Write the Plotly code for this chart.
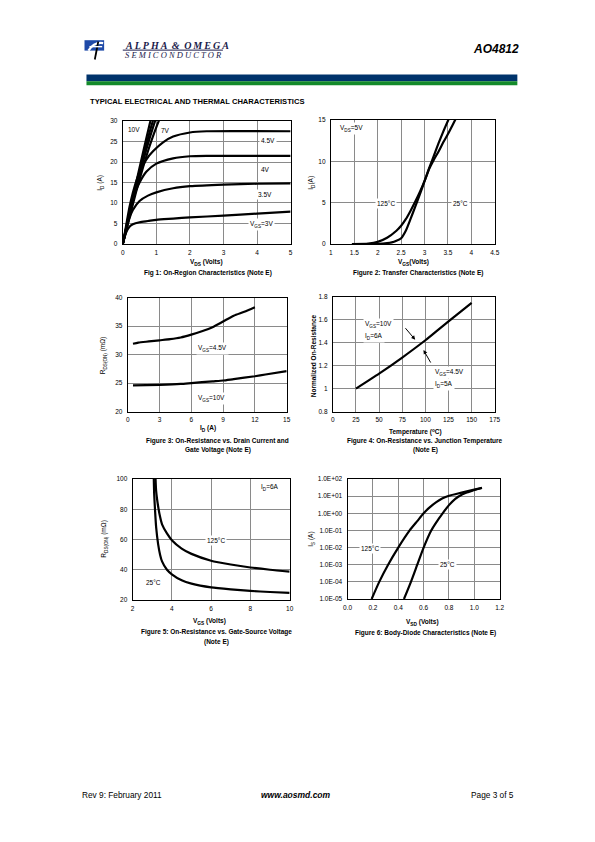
import plotly.graph_objects as go

W, H = 595, 842

# ---------------- data ----------------
# Fig 1: On-region characteristics, VDS (V) vs ID (A)
f1_vds_10v = [0, 0.2, 0.4, 0.6, 0.8, 0.88]
f1_id_10v = [0, 7.6, 15.0, 22.2, 29.2, 31.8]
f1_vds_7v = [0, 0.2, 0.4, 0.6, 0.8, 0.95]
f1_id_7v = [0, 7.2, 14.3, 21.0, 27.3, 31.5]
f1_vds_6v = [0, 0.2, 0.4, 0.6, 0.8, 1.0]
f1_id_6v = [0, 6.9, 13.6, 20.0, 25.8, 31.0]
f1_vds_5v = [0, 0.2, 0.4, 0.6, 0.8, 1.0, 1.1]
f1_id_5v = [0, 6.5, 12.8, 18.6, 23.9, 28.5, 30.6]
f1_vds_45v = [0, 0.1, 0.2, 0.3, 0.4, 0.5, 0.7, 0.9, 1.2, 1.5, 2.0, 2.5, 5.0]
f1_id_45v = [0, 4.5, 9.0, 12.5, 15.3, 17.5, 20.6, 22.6, 24.8, 26.2, 27.2, 27.5, 27.5]
f1_vds_4v = [0, 0.1, 0.2, 0.3, 0.4, 0.5, 0.7, 1.0, 1.5, 2.0, 2.5, 5.0]
f1_id_4v = [0, 4.0, 7.8, 10.8, 13.2, 15.0, 17.6, 19.6, 20.9, 21.4, 21.5, 21.5]
f1_vds_35v = [0, 0.1, 0.2, 0.3, 0.5, 0.75, 1.0, 1.5, 2.0, 3.0, 4.0, 5.0]
f1_id_35v = [0, 3.4, 6.3, 8.3, 10.5, 11.8, 12.6, 13.6, 14.1, 14.5, 14.7, 14.8]
f1_vds_3v = [0, 0.05, 0.1, 0.2, 0.3, 0.5, 0.75, 1.0, 1.5, 2.0, 3.0, 4.0, 5.0]
f1_id_3v = [0, 1.5, 2.8, 4.2, 4.8, 5.3, 5.6, 5.9, 6.2, 6.5, 6.9, 7.4, 7.9]

# Fig 2: Transfer characteristics, VGS (V) vs ID (A)
f2_vgs_125 = [1.45, 1.8, 2.0, 2.2, 2.4, 2.5, 2.6, 2.7, 2.8, 2.9, 3.0, 3.1, 3.2, 3.3, 3.4, 3.5, 3.6, 3.68]
f2_id_125 = [0, 0.05, 0.25, 0.75, 1.6, 2.2, 3.0, 4.0, 5.1, 6.3, 7.6, 9.1, 10.2, 11.2, 12.3, 13.3, 14.4, 15.3]
f2_vgs_25 = [1.45, 2.0, 2.2, 2.3, 2.4, 2.5, 2.6, 2.7, 2.8, 2.9, 3.0, 3.1, 3.2, 3.3, 3.4, 3.53]
f2_id_25 = [0, 0.02, 0.1, 0.2, 0.4, 0.7, 1.6, 3.0, 4.5, 6.0, 7.6, 9.2, 10.7, 12.2, 13.6, 15.3]

# Fig 3: RDS(ON) (mOhm) vs ID (A)
f3_id_45v = [0.5, 1, 2, 3, 4, 5, 6, 7, 8, 9, 10, 11, 12]
f3_r_45v = [31.9, 32.1, 32.3, 32.5, 32.7, 33.0, 33.5, 34.1, 34.8, 35.8, 36.8, 37.5, 38.3]
f3_id_10v = [0.5, 3, 5, 6, 8, 9, 10, 12, 13, 15]
f3_r_10v = [24.6, 24.7, 24.85, 25.0, 25.3, 25.45, 25.7, 26.2, 26.5, 27.1]

# Fig 4: Normalized on-resistance vs temperature
f4_temp = [25, 50, 75, 100, 125, 150]
f4_norm = [1.0, 1.13, 1.27, 1.42, 1.585, 1.745]

# Fig 5: RDS(ON) vs VGS
f5_vgs_125 = [3.17, 3.2, 3.3, 3.4, 3.5, 3.75, 4.0, 4.5, 5.0, 6.0, 7.0, 8.0, 9.0, 10.0]
f5_r_125 = [100, 92, 82, 75, 70, 64, 59.5, 54, 50.5, 46, 43.5, 41.5, 40, 38.8]
f5_vgs_25 = [3.08, 3.1, 3.15, 3.2, 3.3, 3.4, 3.5, 3.75, 4.0, 4.5, 5.0, 6.0, 7.0, 8.0, 9.0, 10.0]
f5_r_25 = [100, 90, 78, 68, 57, 50, 45.5, 40, 37, 33, 30.8, 28.3, 27, 26, 25.3, 24.7]

# Fig 6: Body-diode characteristics, VSD (V) vs IS (A)
f6_vsd_125 = [0.19, 0.25, 0.32, 0.40, 0.49, 0.55, 0.60, 0.65, 0.70, 0.75, 0.80, 0.90, 1.00, 1.06]
f6_is_125 = [1e-5, 1e-4, 1e-3, 1e-2, 1e-1, 0.35, 1, 2.3, 4.5, 7.5, 10.5, 16, 24, 31]
f6_vsd_25 = [0.445, 0.50, 0.55, 0.60, 0.66, 0.70, 0.75, 0.80, 0.85, 0.90, 0.95, 1.00, 1.06]
f6_is_25 = [1e-5, 1e-4, 1e-3, 1e-2, 1e-1, 0.3, 1, 3, 7, 12, 17, 23, 30]

f6_tickvals = [1e-5, 1e-4, 1e-3, 1e-2, 1e-1, 1e0, 1e1, 1e2]
f6_ticktext = ["1.0E-05", "1.0E-04", "1.0E-03", "1.0E-02", "1.0E-01", "1.0E+00", "1.0E+01", "1.0E+02"]

# ---------------- helpers ----------------
FONT = "Liberation Sans, Arial, sans-serif"
SERIF = "Liberation Serif, Times New Roman, serif"


def px(x):
    return x / W


def py(y):
    return 1 - y / H


def sub(s, size=4.6):
    return f"<span style='font-size:{size}px;baseline-shift:-1.6px'>{s}</span>"


def sup(s, size=4.6):
    return f"<span style='font-size:{size}px;baseline-shift:2.5px'>{s}</span>"


fig = go.Figure()

annotations = []
shapes = []


def txt(x, y, text, size=6.5, bold=False, italic=False, xanchor="center", angle=0,
        bg=None, color="black", family=FONT):
    t = text
    if bold:
        t = "<b>" + t + "</b>"
    if italic:
        t = "<i>" + t + "</i>"
    a = dict(x=px(x), y=py(y), xref="paper", yref="paper", text=t, showarrow=False,
             xanchor=xanchor, yanchor="middle", textangle=angle,
             font=dict(size=size, color=color, family=family))
    if bg:
        a["bgcolor"] = bg
        a["borderpad"] = 1
    annotations.append(a)


def line(xr, yr, name, x, y):
    fig.add_trace(go.Scatter(x=x, y=y, mode="lines", xaxis=xr, yaxis=yr,
                             line=dict(color="black", width=2.2, shape="spline", smoothing=0.6),
                             showlegend=False, hoverinfo="skip", name=name))


axis_common = dict(showline=True, linecolor="black", linewidth=1, mirror=True,
                   showgrid=True, gridcolor="#8a8a8a", gridwidth=1, zeroline=False,
                   ticks="", tickfont=dict(size=6.5, family=FONT, color="black"),
                   fixedrange=True)

layout_axes = {}


def add_axes(idx, xdom, ydom, xrange, xdtick, yrange, ydtick, ylog=False,
             ytickvals=None, yticktext=None):
    xname = "xaxis" if idx == 1 else f"xaxis{idx}"
    yname = "yaxis" if idx == 1 else f"yaxis{idx}"
    xa = dict(axis_common, domain=[px(xdom[0]), px(xdom[1])], range=xrange, dtick=xdtick,
              anchor=f"y{'' if idx == 1 else idx}", ticklabelstandoff=2)
    ya = dict(axis_common, domain=[py(ydom[1]), py(ydom[0])],
              anchor=f"x{'' if idx == 1 else idx}", ticklabelstandoff=3)
    if ylog:
        ya.update(type="log", range=yrange, tickvals=ytickvals, ticktext=yticktext)
    else:
        ya.update(range=yrange, dtick=ydtick)
    layout_axes[xname] = xa
    layout_axes[yname] = ya


# ---------------- Fig 1 ----------------
add_axes(1, (120, 291), (118, 242), [0, 5], 1, [0, 30], 5)
for n, (x, y) in {"10V": (f1_vds_10v, f1_id_10v), "7V": (f1_vds_7v, f1_id_7v),
                  "6V": (f1_vds_6v, f1_id_6v), "5V": (f1_vds_5v, f1_id_5v),
                  "4.5V": (f1_vds_45v, f1_id_45v), "4V": (f1_vds_4v, f1_id_4v),
                  "3.5V": (f1_vds_35v, f1_id_35v), "3V": (f1_vds_3v, f1_id_3v)}.items():
    line("x", "y", n, x, y)
txt(131, 127, "10V")
txt(164, 128, "7V", bg="white")
txt(268, 138, "4.5V", bg="white")
txt(265, 167, "4V", bg="white")
txt(265, 192, "3.5V", bg="white")
txt(261, 222, "V" + sub("GS") + "=3V", bg="white")
txt(97, 180, "I" + sub("D") + " (A)", angle=-90)
txt(205, 261, "V" + sub("DS", 4.8) + " (Volts)", bold=True)
txt(207, 271, "Fig 1: On-Region Characteristics (Note E)", bold=True)

# ---------------- Fig 2 ----------------
add_axes(2, (332, 499), (117, 242), [1, 4.5], 0.5, [0, 15], 5)
line("x2", "y2", "125C", f2_vgs_125, f2_id_125)
line("x2", "y2", "25C", f2_vgs_25, f2_id_25)
txt(353, 126, "V" + sub("DS") + "=5V", bg="white")
txt(388, 201, "125°C", bg="white")
txt(464, 201, "25°C", bg="white")
txt(312, 180, "I" + sub("D") + "(A)", angle=-90)
txt(416, 261, "V" + sub("GS", 4.8) + "(Volts)", bold=True)
txt(421, 271, "Figure 2: Transfer Characteristics (Note E)", bold=True)

# ---------------- Fig 3 ----------------
add_axes(3, (125, 287), (296, 411), [0, 15], 3, [20, 40], 5)
line("x3", "y3", "4.5V", f3_id_45v, f3_r_45v)
line("x3", "y3", "10V", f3_id_10v, f3_r_10v)
txt(211, 347, "V" + sub("GS") + "=4.5V", bg="white")
txt(210, 398, "V" + sub("GS") + "=10V", bg="white")
txt(100, 355, "R" + sub("DS(ON)") + " (mΩ)", angle=-90)
txt(207, 428, "I" + sub("D", 4.8) + " (A)", bold=True)
txt(217, 441, "Figure 3: On-Resistance vs. Drain Current and", bold=True)
txt(217, 450, "Gate Voltage (Note E)", bold=True)

# ---------------- Fig 4 ----------------
add_axes(4, (334, 499), (295, 411), [0, 175], 25, [0.8, 1.8], 0.2)
line("x4", "y4", "norm", f4_temp, f4_norm)
txt(365, 323, "V" + sub("GS") + "=10V", xanchor="left", bg="white")
txt(365, 335, "I" + sub("D") + "=6A", xanchor="left", bg="white")
txt(436, 372, "V" + sub("GS") + "=4.5V", xanchor="left", bg="white")
txt(436, 384, "I" + sub("D") + "=5A", xanchor="left", bg="white")
annotations.append(dict(x=89, y=1.425, xref="x4", yref="y4", ax=-11, ay=-13,
                        showarrow=True, arrowhead=2, arrowsize=0.8, arrowwidth=1,
                        arrowcolor="black", text=""))
annotations.append(dict(x=98, y=1.335, xref="x4", yref="y4", ax=8, ay=14,
                        showarrow=True, arrowhead=2, arrowsize=0.8, arrowwidth=1,
                        arrowcolor="black", text=""))
txt(314, 355, "Normalized On-Resistance", bold=True, angle=-90)
txt(418, 431, "Temperature (" + sup("o") + "C)", bold=True)
txt(428, 441, "Figure 4: On-Resistance vs. Junction Temperature", bold=True)
txt(428, 450, "(Note E)", bold=True)

# ---------------- Fig 5 ----------------
add_axes(5, (130, 290), (479, 601), [2, 10], 2, [20, 100], 20)
line("x5", "y5", "125C", f5_vgs_125, f5_r_125)
line("x5", "y5", "25C", f5_vgs_25, f5_r_25)
txt(270, 488, "I" + sub("D") + "=6A")
txt(215, 541, "125°C", bg="white")
txt(151, 583, "25°C")
txt(101, 540, "R" + sub("DS(ON)") + " (mΩ)", angle=-90)
txt(208, 623, "V" + sub("GS", 4.8) + " (Volts)", bold=True)
txt(215, 633, "Figure 5: On-Resistance vs. Gate-Source Voltage", bold=True)
txt(215, 643, "(Note E)", bold=True)

# ---------------- Fig 6 ----------------
add_axes(6, (349, 504), (479, 600), [0, 1.2], 0.2, [-5, 2], None, ylog=True,
         ytickvals=f6_tickvals, yticktext=f6_ticktext)
layout_axes["xaxis6"]["tickformat"] = ".1f"
line("x6", "y6", "125C", f6_vsd_125, f6_is_125)
line("x6", "y6", "25C", f6_vsd_25, f6_is_25)
txt(372, 549, "125°C", bg="white")
txt(451, 565, "25°C", bg="white")
txt(312, 540, "I" + sub("S") + " (A)", angle=-90)
txt(425, 624, "V" + sub("SD", 4.8) + " (Volts)", bold=True)
txt(428, 634, "Figure 6: Body-Diode Characteristics (Note E)", bold=True)

# ---------------- header / footer ----------------
# logo
shapes.append(dict(type="rect", xref="paper", yref="paper", x0=px(81), x1=px(101),
                   y0=py(47), y1=py(36.5), fillcolor="#1f4aa8", line=dict(width=0), layer="above"))
shapes.append(dict(type="path", xref="paper", yref="paper",
                   path=f"M {px(85)} {py(47)} Q {px(91)} {py(38)} {px(100)} {py(39.5)}",
                   line=dict(color="white", width=2.2), layer="above"))
shapes.append(dict(type="path", xref="paper", yref="paper",
                   path=f"M {px(95)} {py(38)} L {px(91.5)} {py(56)}",
                   line=dict(color="black", width=1.8), layer="above"))
shapes.append(dict(type="path", xref="paper", yref="paper",
                   path=f"M {px(86)} {py(43)} L {px(99)} {py(43)}",
                   line=dict(color="white", width=1.4), layer="above"))
txt(120, 41.5, "A\u2009L\u2009P\u2009H\u2009A\u2009 &amp; \u2009O\u2009M\u2009E\u2009G\u2009A", size=10,
    bold=True, italic=True, xanchor="left", color="#1a1a4a", family=SERIF)
shapes.append(dict(type="line", xref="paper", yref="paper", x0=px(120), x1=px(222),
                   y0=py(46.5), y1=py(46.5), line=dict(color="#1a1a4a", width=1)))
txt(120, 51.5, "S E M I C O N D U C T O R", size=8.5, italic=True, xanchor="left",
    color="#1a1a4a", family=SERIF)
txt(526, 45, "AO4812", size=12, bold=True, italic=True, xanchor="right")

# bands
shapes.append(dict(type="rect", xref="paper", yref="paper", x0=px(83), x1=px(522),
                   y0=py(78), y1=py(71), fillcolor="#00336b", line=dict(width=0)))
shapes.append(dict(type="rect", xref="paper", yref="paper", x0=px(83), x1=px(522),
                   y0=py(82), y1=py(78), fillcolor="#138a2a", line=dict(width=0)))

txt(85, 98, "TYPICAL ELECTRICAL AND THERMAL CHARACTERISTICS", size=7.6, bold=True,
    xanchor="left")

txt(76, 798, "Rev 9: February 2011", size=8.3, xanchor="left")
txt(296, 798, "www.aosmd.com", size=8.5, bold=True, italic=True)
txt(521, 798, "Page 3 of 5", size=8.3, xanchor="right")

fig.update_layout(width=W, height=H, margin=dict(l=0, r=0, t=0, b=0),
                  paper_bgcolor="white", plot_bgcolor="white",
                  showlegend=False, annotations=annotations, shapes=shapes,
                  font=dict(family=FONT, color="black"), **layout_axes)

fig.write_html("out.html", config={"displayModeBar": False},
               post_script="document.body.style.margin='0';document.body.style.overflow='hidden';")
